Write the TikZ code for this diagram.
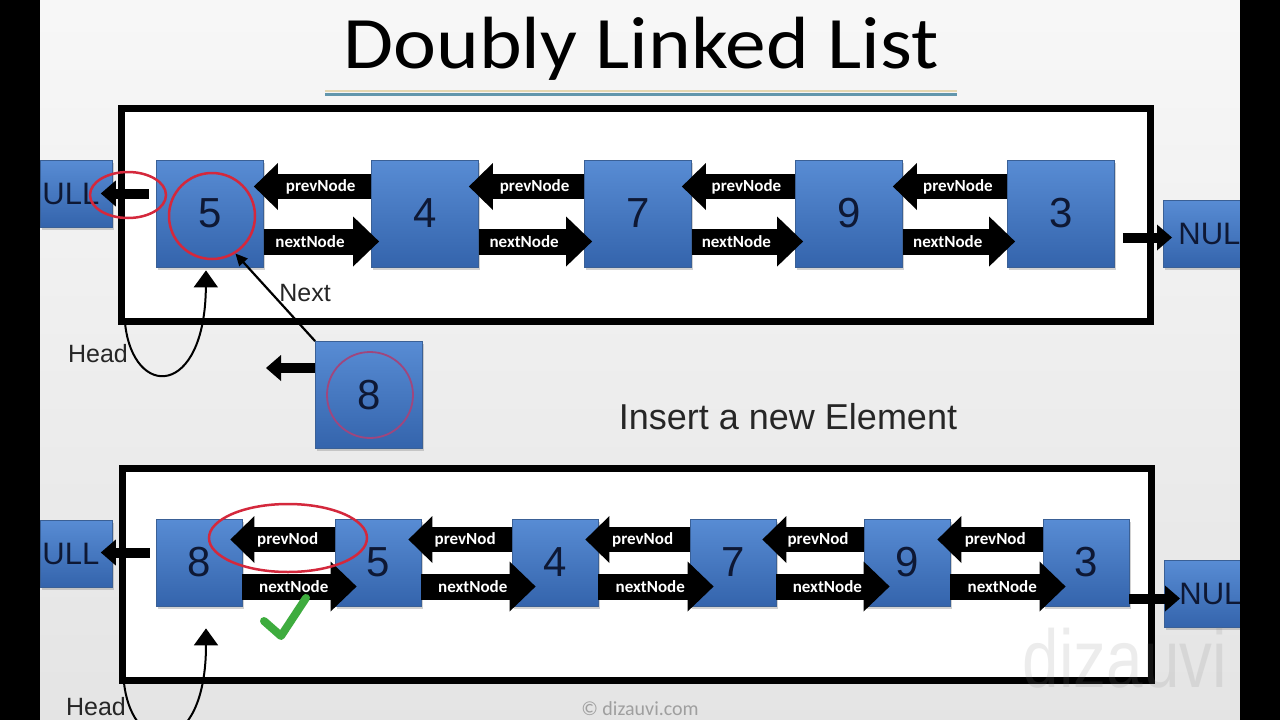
\documentclass[tikz,border=0pt]{standalone}
\usepackage{fontspec}
\setmainfont{Liberation Sans}
\newfontfamily\calfont{Carlito}
\usetikzlibrary{arrows.meta,shapes.geometric,shadows}
\definecolor{boxtop}{RGB}{88,140,212}
\definecolor{boxbot}{RGB}{52,100,172}
\definecolor{boxline}{RGB}{58,96,150}
\definecolor{digit}{RGB}{14,24,52}
\definecolor{ringred}{RGB}{212,40,60}
\definecolor{ringpurple}{RGB}{160,70,125}
\definecolor{checkgreen}{RGB}{62,172,62}
\definecolor{ruletan}{RGB}{228,214,176}
\definecolor{ruleblue}{RGB}{98,150,172}
\begin{document}
\begin{tikzpicture}[x=1pt, y=-1pt,
  every node/.style={inner sep=0pt},
  box/.style={draw=boxline, line width=.8pt, top color=boxtop, bottom color=boxbot, text=digit,
    drop shadow={shadow xshift=1.5pt, shadow yshift=-2.5pt, opacity=.35},
    font=\fontsize{42}{42}\selectfont},
  bigbox/.style={box, minimum width=107pt, minimum height=107pt},
  smallbox/.style={box, minimum width=86pt, minimum height=87pt},
  nullbox/.style={box, minimum height=67pt, align=left, font=\fontsize{31}{31}\selectfont},
  lbl/.style={text=white, font=\calfont\bfseries\fontsize{17}{17}\selectfont},
  prevarr/.style={line width=25pt, -{Triangle[length=24pt, width=47pt, line width=0pt]}},
  nextarr/.style={line width=26pt, -{Triangle[length=26pt, width=50pt, line width=0pt]}},
  stub/.style={line width=10pt, -{Triangle[length=15pt, width=26pt, line width=0pt]}},
  headline/.style={line width=2pt, -{Triangle[length=17pt, width=24pt]}},
  ring/.style={circle, draw, line width=2.5pt, minimum size=86pt},
  oval/.style={ellipse, draw=ringred, line width=2.5pt},
  listframe/.style={draw, line width=7pt, fill=white},
  note/.style={text=black!85, font=\fontsize{25}{25}\selectfont}]
  \useasboundingbox (0,0) rectangle (1280,720);
  \clip (0,0) rectangle (1280,720);
  \fill[top color=gray!6, bottom color=gray!21] (0,0) rectangle (1280,720);

  \node[font=\calfont\fontsize{74}{74}\selectfont, xscale=1.1, anchor=base] (title) at (641,68) {Doubly Linked List};
  \draw[ruletan, line width=2pt] (325,91) -- (957,91);
  \draw[ruleblue, line width=3pt] (325,94.5) -- (957,94.5);

  \draw[listframe] (121,108) rectangle (1150,321);
  \draw[listframe] (122,468) rectangle (1151,680);

  \node[bigbox] (t5) at (210,213.5) {5};
  \node[bigbox] (t4) at (425,213.5) {4};
  \node[bigbox] (t7) at (638,213.5) {7};
  \node[bigbox] (t9) at (849,213.5) {9};
  \node[bigbox] (t3) at (1061,213.5) {3};
  \node[nullbox, text width=68pt, inner xsep=2pt, anchor=west] (nl1) at (40,193.5) {ULL};
  \node[nullbox, text width=80pt, inner xsep=15pt, anchor=west] (nr1) at (1163,233.5) {NUL};
  \node[bigbox] (e8) at (369,395) {8};

  \node[smallbox] (b8) at (199,562.5) {8};
  \node[smallbox] (b5) at (378,562.5) {5};
  \node[smallbox] (b4) at (555,562.5) {4};
  \node[smallbox] (b7) at (733,562.5) {7};
  \node[smallbox] (b9) at (907,562.5) {9};
  \node[smallbox] (b3) at (1086,562.5) {3};
  \node[nullbox, text width=68pt, inner xsep=2pt, anchor=west] (nl2) at (40,553.5) {ULL};
  \node[nullbox, text width=80pt, inner xsep=15pt, anchor=west] (nr2) at (1164,594) {NUL};

  \draw[prevarr] ([yshift=27pt]t4.west) -- ([xshift=-10pt,yshift=27pt]t5.east) node[lbl,pos=.43] {prevNode};
  \draw[nextarr] ([yshift=-28pt]t5.east) -- ([xshift=8pt,yshift=-28pt]t4.west) node[lbl,pos=.4] {nextNode};
  \draw[prevarr] ([yshift=27pt]t7.west) -- ([xshift=-10pt,yshift=27pt]t4.east) node[lbl,pos=.43] {prevNode};
  \draw[nextarr] ([yshift=-28pt]t4.east) -- ([xshift=8pt,yshift=-28pt]t7.west) node[lbl,pos=.4] {nextNode};
  \draw[prevarr] ([yshift=27pt]t9.west) -- ([xshift=-10pt,yshift=27pt]t7.east) node[lbl,pos=.43] {prevNode};
  \draw[nextarr] ([yshift=-28pt]t7.east) -- ([xshift=8pt,yshift=-28pt]t9.west) node[lbl,pos=.4] {nextNode};
  \draw[prevarr] ([yshift=27pt]t3.west) -- ([xshift=-10pt,yshift=27pt]t9.east) node[lbl,pos=.43] {prevNode};
  \draw[nextarr] ([yshift=-28pt]t9.east) -- ([xshift=8pt,yshift=-28pt]t3.west) node[lbl,pos=.4] {nextNode};
  \draw[stub] ([xshift=-7pt,yshift=20pt]t5.west) -- ([xshift=-12pt]nl1.east);
  \draw[stub] ([xshift=8pt,yshift=-24pt]t3.east) -- ([xshift=9pt,yshift=-4pt]nr1.west);

  \draw[prevarr] ([yshift=23pt]b5.west) -- ([xshift=-12pt,yshift=23pt]b8.east) node[lbl,pos=.45] {prevNod};
  \draw[nextarr] ([yshift=-24pt]b8.east) -- ([xshift=22pt,yshift=-24pt]b5.west) node[lbl,pos=.45] {nextNode};
  \draw[prevarr] ([yshift=23pt]b4.west) -- ([xshift=-13pt,yshift=23pt]b5.east) node[lbl,pos=.45] {prevNod};
  \draw[nextarr] ([yshift=-24pt]b5.east) -- ([xshift=24pt,yshift=-24pt]b4.west) node[lbl,pos=.45] {nextNode};
  \draw[prevarr] ([yshift=23pt]b7.west) -- ([xshift=-13pt,yshift=23pt]b4.east) node[lbl,pos=.45] {prevNod};
  \draw[nextarr] ([yshift=-24pt]b4.east) -- ([xshift=24pt,yshift=-24pt]b7.west) node[lbl,pos=.45] {nextNode};
  \draw[prevarr] ([yshift=23pt]b9.west) -- ([xshift=-14pt,yshift=23pt]b7.east) node[lbl,pos=.45] {prevNod};
  \draw[nextarr] ([yshift=-24pt]b7.east) -- ([xshift=26pt,yshift=-24pt]b9.west) node[lbl,pos=.45] {nextNode};
  \draw[prevarr] ([yshift=23pt]b3.west) -- ([xshift=-13pt,yshift=23pt]b9.east) node[lbl,pos=.45] {prevNod};
  \draw[nextarr] ([yshift=-24pt]b9.east) -- ([xshift=23pt,yshift=-24pt]b3.west) node[lbl,pos=.45] {nextNode};
  \draw[stub] ([xshift=-6pt,yshift=10pt]b8.west) -- ([xshift=-12pt,yshift=1pt]nl2.east);
  \draw[stub] ([yshift=-36pt]b3.east) -- ([xshift=16pt,yshift=-4.5pt]nr2.west);

  \coordinate (e8tip) at (266,368);
  \draw[stub] ([yshift=27pt]e8.west) -- (e8tip);

  \node[ring, draw=ringred] (ring5) at (212,216) {};
  \node[ring, draw=ringpurple, line width=1.8pt] (ring8) at (370,395) {};
  \node[oval, minimum width=76pt, minimum height=46pt] (oval1) at (128,195) {};
  \node[oval, minimum width=158pt, minimum height=68pt] (oval2) at (288,538) {};
  \draw[line width=2.2pt, -{Triangle[length=12pt, width=11pt]}] (e8.north west) -- (ring5.-58);

  \coordinate (h1) at (125,323);
  \coordinate (h2) at (124,683);
  \draw[headline] (h1) .. controls (133,400) and (205,398) .. ([xshift=-4pt,yshift=-3pt]t5.south);
  \draw[headline] (h2) .. controls (133,760) and (206,758) .. ([xshift=7pt,yshift=-22pt]b8.south);
  \draw[checkgreen, line width=8pt, line cap=round, line join=round] (264,621) -- (281,636) -- (306,598);

  \node[note] (head1) at (98,354) {Head};
  \node[note] (next) at (305,293) {Next};
  \node[note, font=\fontsize{36}{36}\selectfont] (insert) at (788,417) {Insert a new Element};
  \node[note] (head2) at (96,707) {Head};
  \node[text=gray!75, font=\calfont\fontsize{20}{20}\selectfont] (copy) at (640,709) {© dizauvi.com};
  \node[text=gray, opacity=.15, font=\fontsize{82}{82}\selectfont, xscale=.8, anchor=base] (mark) at (1125,687) {dizauvi};

  \fill (0,0) rectangle (40,720);
  \fill (1240,0) rectangle (1280,720);
\end{tikzpicture}
\end{document}
